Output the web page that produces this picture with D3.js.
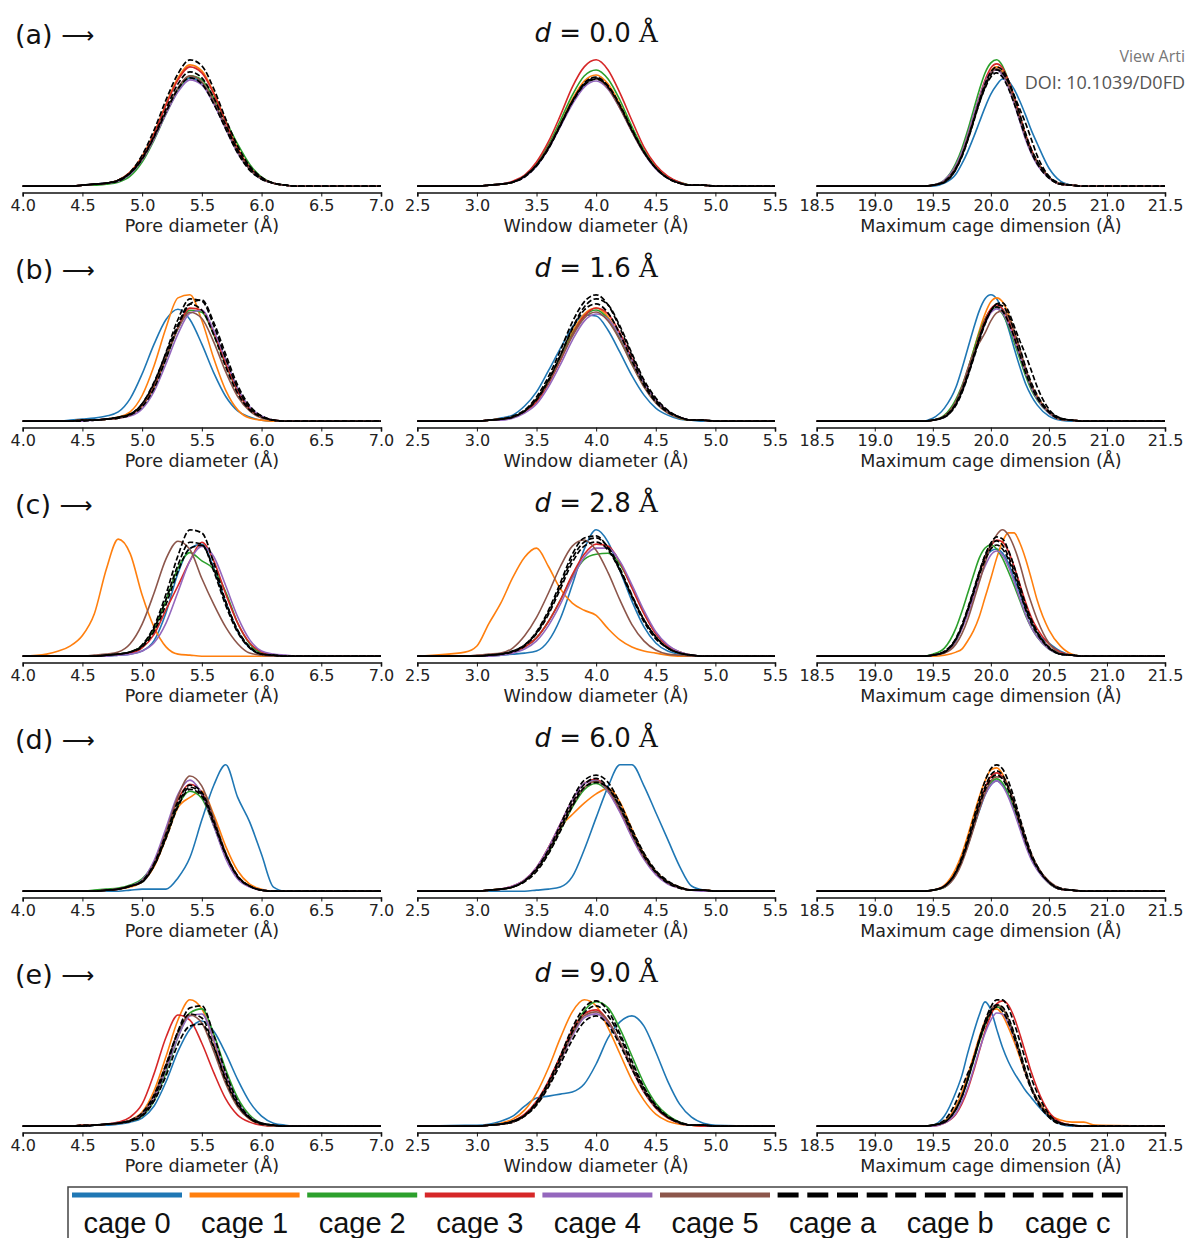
<!DOCTYPE html>
<html>
<head>
<meta charset="utf-8">
<script src="https://cdn.jsdelivr.net/npm/d3@7"></script>
<style>
  body { margin: 0; background: #fff; }
  svg { display: block; }
</style>
</head>
<body>
<svg id="fig" width="1186" height="1238"></svg>
<script>
var seriesNames = ["cage 0", "cage 1", "cage 2", "cage 3", "cage 4", "cage 5", "cage a", "cage b", "cage c"];
var seriesColors = ["#1f77b4", "#ff7f0e", "#2ca02c", "#d62728", "#9467bd", "#8c564b", "#000", "#000", "#000"];
var rowLabels = ["(a)", "(b)", "(c)", "(d)", "(e)"];
var distances = ["0.0", "1.6", "2.8", "6.0", "9.0"];

// x positions where the densities were read
var poreX = [4.0,4.2,4.3,4.4,4.5,4.6,4.7,4.8,4.9,5.0,5.1,5.2,5.3,5.4,5.5,5.6,5.7,5.8,5.9,6.0,6.1,6.2,6.3,7.0];
var windowX = [2.5,2.9,3.0,3.1,3.2,3.3,3.4,3.5,3.6,3.7,3.8,3.9,4.0,4.1,4.2,4.3,4.4,4.5,4.6,4.7,4.8,4.9,5.0,5.5];
var cageX = [18.5,19.4,19.5,19.6,19.7,19.75,19.8,19.85,19.9,19.95,20.0,20.05,20.1,20.15,20.2,20.25,20.3,20.35,20.4,20.5,20.6,20.7,20.8,20.9,21.5];

var poreTicks = [4.0, 4.5, 5.0, 5.5, 6.0, 6.5, 7.0];
var windowTicks = [2.5, 3.0, 3.5, 4.0, 4.5, 5.0, 5.5];
var cageTicks = [18.5, 19.0, 19.5, 20.0, 20.5, 21.0, 21.5];

// densities (arbitrary units), one row per series: cage 0..5, cage a, b, c
var pore_a = [
  [0,0,0,0,1,2,3,5,12,26,48,73,96,108,103,83,58,34,17,7,3,1,0,0],
  [0,0,0,0,1,2,3,6,14,30,53,82,108,121,115,93,65,38,19,8,3,1,0,0],
  [0,0,0,0,1,1,2,4,10,24,46,72,95,110,106,88,65,42,22,9,3,1,0,0],
  [0,0,0,0,1,2,3,6,14,29,52,81,106,119,113,92,64,37,19,8,3,1,0,0],
  [0,0,0,0,1,2,3,5,12,26,47,72,94,106,101,82,57,33,17,7,3,1,0,0],
  [0,0,0,0,1,2,3,6,13,27,49,75,98,110,104,85,59,35,17,7,3,1,0,0],
  [0,0,0,0,1,2,3,6,14,31,56,86,112,126,120,97,67,40,20,9,3,1,0,0],
  [0,0,0,0,1,2,3,6,13,28,50,77,102,114,108,88,61,36,18,8,3,1,0,0],
  [0,0,0,0,1,2,3,5,13,27,49,74,97,108,102,82,57,33,16,7,3,1,0,0]
];
var pore_b = [
  [0,0,0,1,2,3,5,9,22,46,75,99,109,99,75,47,24,10,4,1,0,0,0,0],
  [0,0,0,0,1,1,2,4,9,25,54,91,120,123,98,61,30,11,3,1,0,0,0,0],
  [0,0,0,0,1,1,2,3,6,15,33,61,90,108,106,84,55,29,12,4,1,0,0,0],
  [0,0,0,0,1,1,2,3,6,15,34,62,91,110,108,86,56,29,12,4,1,0,0,0],
  [0,0,0,0,0,1,2,3,5,12,29,56,85,105,108,88,60,32,14,5,1,0,0,0],
  [0,0,0,0,1,1,2,3,6,16,36,63,90,106,100,77,48,24,10,3,1,0,0,0],
  [0,0,0,0,1,1,2,4,7,17,37,67,99,119,117,93,61,32,13,5,1,0,0,0],
  [0,0,0,0,0,1,2,3,6,14,32,61,92,114,118,96,65,35,15,5,1,0,0,0],
  [0,0,0,0,1,1,2,4,7,17,38,66,94,114,108,84,53,27,11,4,1,0,0,0]
];
var pore_c = [
  [0,0,0,0,0,0,0,1,2,5,15,42,80,104,108,85,52,24,8,2,1,0,0,0],
  [0,2,5,10,20,41,84,113,99,59,28,9,2,1,0,0,0,0,0,0,0,0,0,0],
  [0,0,0,0,0,0,1,2,4,10,26,54,85,100,92,84,62,32,12,3,1,0,0,0],
  [0,0,0,0,0,0,1,2,3,8,21,45,68,92,110,92,60,32,13,4,1,0,0,0],
  [0,0,0,0,0,0,0,1,2,5,13,32,62,92,106,96,68,38,16,5,2,1,0,0],
  [0,0,0,0,0,1,2,4,12,31,61,94,111,103,75,50,28,12,3,1,0,0,0,0],
  [0,0,0,0,0,0,1,2,4,11,29,60,97,122,119,90,53,25,9,2,1,0,0,0],
  [0,0,0,0,0,0,1,2,4,10,27,55,88,110,108,82,49,23,8,2,1,0,0,0],
  [0,0,0,0,0,0,1,2,4,9,24,50,82,104,107,84,52,25,9,2,1,0,0,0]
];
var pore_d = [
  [0,0,0,0,0,0,0,0,1,2,2,2,13,33,70,104,124,92,68,36,4,0,0,0],
  [0,0,0,0,0,0,1,2,4,9,24,52,82,92,98,75,44,20,7,2,0,0,0,0],
  [0,0,0,0,0,1,2,3,6,12,28,54,84,98,91,64,34,14,5,1,0,0,0,0],
  [0,0,0,0,0,0,1,2,5,10,28,58,90,105,97,68,36,14,5,1,0,0,0,0],
  [0,0,0,0,0,0,1,2,5,11,30,62,95,109,95,64,32,12,4,1,0,0,0,0],
  [0,0,0,0,0,0,1,2,5,10,27,58,93,113,103,72,38,15,5,1,0,0,0,0],
  [0,0,0,0,0,0,1,2,5,9,25,53,85,102,95,67,36,14,5,1,0,0,0,0],
  [0,0,0,0,0,0,1,2,5,10,27,56,88,104,97,69,37,15,5,1,0,0,0,0],
  [0,0,0,0,0,0,1,2,5,9,25,52,83,100,93,66,36,14,5,1,0,0,0,0]
];
var pore_e = [
  [0,0,0,0,0,1,1,2,4,8,20,44,74,96,104,94,72,46,24,10,3,1,0,0],
  [0,0,0,0,1,1,2,3,6,14,35,69,105,125,116,84,47,21,7,2,0,0,0,0],
  [0,0,0,0,0,1,2,3,5,10,25,53,88,112,116,91,56,28,11,3,1,0,0,0],
  [0,0,0,0,1,1,2,4,9,22,52,88,110,105,82,53,27,11,4,1,0,0,0,0],
  [0,0,0,0,0,1,2,3,5,11,27,56,88,109,111,85,51,24,9,3,1,0,0,0],
  [0,0,0,0,1,1,2,3,6,13,31,61,93,110,102,74,42,19,7,2,0,0,0,0],
  [0,0,0,0,0,1,2,3,5,11,28,58,94,117,119,90,53,25,9,3,1,0,0,0],
  [0,0,0,0,1,1,2,3,6,13,31,61,93,111,107,79,45,21,8,2,1,0,0,0],
  [0,0,0,0,0,1,2,3,5,10,25,50,81,99,101,78,47,22,8,3,1,0,0,0]
];

var window_a = [
  [0,0,0,1,2,4,10,20,38,60,83,100,106,98,78,55,33,18,8,3,1,1,0,0],
  [0,0,0,1,2,4,10,21,39,62,86,104,110,101,81,57,35,19,9,3,1,1,0,0],
  [0,0,0,1,2,4,10,22,41,65,90,109,115,106,85,59,36,19,9,4,1,1,0,0],
  [0,0,0,1,2,5,11,24,44,70,98,118,125,115,92,65,39,21,10,4,1,1,0,0],
  [0,0,0,1,2,4,9,20,37,59,81,98,104,96,77,54,33,17,8,3,1,1,0,0],
  [0,0,0,1,2,4,10,21,39,61,84,101,106,97,77,54,33,18,8,3,1,1,0,0],
  [0,0,0,1,2,4,10,21,38,61,84,102,108,99,80,56,34,18,8,3,1,1,0,0],
  [0,0,0,1,2,4,9,20,37,60,83,100,106,99,80,56,34,18,8,3,1,1,0,0],
  [0,0,0,1,2,4,10,21,38,60,84,101,107,98,79,55,34,18,8,3,1,1,0,0]
];
var window_b = [
  [0,0,0,1,3,6,15,29,50,72,93,105,104,90,68,45,26,13,6,2,1,0,0,0],
  [0,0,0,1,2,4,10,22,40,63,88,106,112,103,83,58,35,19,9,3,1,1,0,0],
  [0,0,0,1,2,4,10,21,39,62,86,104,110,101,81,57,35,19,9,3,1,1,0,0],
  [0,0,0,1,2,4,9,19,37,60,85,104,112,106,87,62,38,21,10,4,1,1,0,0],
  [0,0,0,1,1,3,8,17,34,56,80,99,106,101,84,60,38,21,10,4,1,1,0,0],
  [0,0,0,1,2,4,10,21,38,61,84,102,108,99,80,56,34,18,8,3,1,1,0,0],
  [0,0,0,1,2,5,11,24,44,70,98,118,125,115,92,65,39,21,10,4,1,1,0,0],
  [0,0,0,1,2,4,10,21,40,65,92,113,121,115,94,67,41,23,11,4,1,1,0,0],
  [0,0,0,1,2,4,10,22,41,65,91,110,116,107,86,60,36,19,9,4,1,1,0,0]
];
var window_c = [
  [0,0,0,0,1,2,3,5,15,37,70,105,124,112,84,54,29,13,5,2,1,0,0,0],
  [0,4,10,32,52,77,97,106,88,66,52,45,40,27,16,9,5,3,1,0,0,0,0,0],
  [0,0,0,1,2,4,9,18,34,55,78,95,100,101,90,68,43,23,10,4,1,0,0,0],
  [0,0,0,1,2,4,9,18,34,55,80,100,110,108,92,67,42,22,10,4,1,0,0,0],
  [0,0,0,0,1,3,7,15,30,51,76,97,106,106,93,70,45,24,11,4,1,0,0,0],
  [0,0,1,2,3,8,20,38,62,88,108,114,104,82,55,31,15,6,2,1,0,0,0,0],
  [0,0,0,1,2,5,11,24,45,72,100,116,118,106,84,58,34,17,8,3,1,0,0,0],
  [0,0,0,1,2,5,11,23,43,69,96,112,116,107,86,60,36,19,8,3,1,0,0,0],
  [0,0,0,1,2,4,10,22,41,66,92,108,112,104,84,59,36,19,8,3,1,0,0,0]
];
var window_d = [
  [0,0,0,0,0,0,0,1,2,4,14,40,71,101,122,122,102,76,50,24,5,1,0,0],
  [0,0,0,1,2,4,10,22,42,62,74,85,94,99,86,60,36,19,9,4,1,1,0,0],
  [0,0,0,1,2,4,10,21,37,59,81,98,104,96,78,55,33,18,8,3,1,1,0,0],
  [0,0,0,1,2,5,11,23,42,65,88,104,108,97,77,53,32,17,8,3,1,1,0,0],
  [0,0,0,1,2,5,11,23,42,65,88,104,107,96,76,52,31,16,7,3,1,0,0,0],
  [0,0,0,1,2,4,10,21,38,60,83,100,106,98,79,55,33,18,8,3,1,1,0,0],
  [0,0,0,1,2,4,10,22,40,64,89,107,112,105,85,60,37,20,10,4,1,1,0,0],
  [0,0,0,1,2,4,10,21,38,61,85,103,109,100,81,56,34,18,8,3,1,1,0,0],
  [0,0,0,1,2,4,9,19,36,58,82,100,105,100,82,58,36,19,9,4,1,1,0,0]
];
var window_e = [
  [0,1,1,2,5,10,20,28,30,32,34,42,62,88,104,110,100,74,45,22,9,3,1,0],
  [0,0,0,1,3,7,16,33,58,88,114,126,120,98,72,46,26,12,5,2,1,0,0,0],
  [0,0,0,1,2,4,10,22,41,66,94,115,124,118,97,70,43,23,11,4,1,1,0,0],
  [0,0,0,1,2,5,12,25,45,70,96,112,116,105,83,57,34,18,8,3,1,0,0,0],
  [0,0,0,1,2,4,10,22,41,65,90,108,112,103,83,58,35,19,9,3,1,1,0,0],
  [0,0,0,1,2,4,10,22,41,66,92,110,114,105,84,59,36,19,9,3,1,1,0,0],
  [0,0,0,1,2,5,11,24,44,70,98,118,125,115,92,65,39,21,10,4,1,1,0,0],
  [0,0,0,1,2,5,11,23,42,67,94,113,120,110,89,62,38,20,9,4,1,1,0,0],
  [0,0,0,1,2,4,10,21,39,62,86,104,110,101,81,57,35,19,9,3,1,1,0,0]
];

var cage_a = [
  [0,0,0,3,12,22,34,48,63,78,91,100,106,104,96,84,70,55,42,18,5,1,0,0,0],
  [0,0,1,5,19,32,48,67,86,103,114,118,114,103,87,68,50,35,24,9,2,1,0,0,0],
  [0,0,1,6,23,37,55,75,95,112,122,125,119,105,88,69,50,35,24,9,2,1,0,0,0],
  [0,0,1,5,19,33,50,69,88,105,117,121,117,105,89,70,51,36,24,9,2,1,0,0,0],
  [0,0,1,6,21,34,51,70,88,103,113,115,110,98,82,64,46,32,21,8,2,1,0,0,0],
  [0,0,1,5,19,31,48,66,85,101,112,116,112,101,85,67,49,34,23,9,2,1,0,0,0],
  [0,0,1,4,17,29,45,63,82,98,110,115,112,103,90,76,62,46,30,10,3,1,0,0,0],
  [0,0,1,4,17,30,46,65,84,101,113,118,115,105,89,71,52,36,25,9,2,1,0,0,0],
  [0,0,1,5,18,30,46,64,82,97,108,112,108,97,82,65,48,33,22,8,2,1,0,0,0]
];
var cage_b = [
  [0,0,3,13,34,52,72,92,110,122,126,122,110,93,73,54,37,25,16,5,1,0,0,0,0],
  [0,0,1,5,20,33,50,70,90,107,119,123,119,107,90,71,52,36,25,9,2,1,0,0,0],
  [0,0,1,6,22,35,51,70,88,102,111,113,107,95,79,62,45,31,21,8,2,1,0,0,0],
  [0,0,1,5,19,31,48,66,85,101,112,116,112,101,85,67,49,34,23,9,2,1,0,0,0],
  [0,0,1,4,18,30,46,64,82,97,108,112,108,97,82,65,48,33,22,8,2,1,0,0,0],
  [0,0,1,5,20,34,52,68,78,88,100,108,110,104,90,72,52,36,24,9,2,1,0,0,0],
  [0,0,1,4,16,28,44,62,80,97,110,117,118,110,95,80,66,50,34,12,3,1,0,0,0],
  [0,0,1,5,18,31,47,65,83,99,110,114,110,99,84,66,48,34,23,9,2,1,0,0,0],
  [0,0,1,4,17,29,45,63,82,98,110,116,115,106,91,73,54,38,26,10,3,1,0,0,0]
];
var cage_c = [
  [0,0,1,4,15,28,44,63,82,97,104,106,102,92,77,62,46,33,23,13,5,1,0,0,0],
  [0,0,0,1,4,7,15,25,39,58,77,97,113,122,122,112,96,76,55,26,10,2,0,0,0],
  [0,0,2,8,28,44,62,80,97,107,110,106,97,84,70,55,40,28,19,7,2,1,0,0,0],
  [0,0,1,4,16,28,44,62,81,97,109,115,113,104,89,71,53,38,27,12,4,1,0,0,0],
  [0,0,1,4,16,27,41,58,75,89,100,104,100,89,74,57,41,28,19,7,2,1,0,0,0],
  [0,0,1,3,12,22,36,54,73,92,109,120,125,120,108,91,70,52,36,13,3,1,0,0,0],
  [0,0,1,4,17,29,46,64,83,100,112,118,116,105,89,70,51,36,24,9,2,1,0,0,0],
  [0,0,1,5,18,31,47,65,83,99,110,114,110,99,84,66,48,34,23,9,2,1,0,0,0],
  [0,0,1,4,17,29,45,62,80,95,106,110,106,96,81,64,46,32,22,8,2,1,0,0,0]
];
var cage_d = [
  [0,0,1,4,17,30,45,63,80,96,106,110,106,96,81,64,47,32,22,8,2,1,0,0,0],
  [0,0,1,6,23,37,55,75,94,110,121,123,117,104,87,68,49,34,23,8,2,1,0,0,0],
  [0,0,1,4,18,30,46,64,82,97,108,112,108,97,82,65,48,33,22,8,2,1,0,0,0],
  [0,0,1,5,19,32,48,67,86,103,114,118,114,103,87,68,50,35,24,9,2,1,0,0,0],
  [0,0,1,5,19,32,47,64,81,96,106,110,105,94,79,62,45,31,21,8,2,1,0,0,0],
  [0,0,1,4,16,28,44,62,81,98,110,114,113,104,89,71,53,37,25,10,3,1,0,0,0],
  [0,0,1,5,20,34,52,72,92,110,122,126,122,110,93,73,54,37,25,9,3,1,0,0,0],
  [0,0,1,5,19,32,49,68,88,104,116,120,116,104,88,70,51,35,24,9,2,1,0,0,0],
  [0,0,1,5,19,31,48,66,85,101,112,116,112,101,85,67,49,34,23,9,2,1,0,0,0]
];
var cage_e = [
  [0,0,1,10,34,50,72,92,110,123,115,96,78,64,53,44,35,28,21,9,2,0,0,0,0],
  [0,0,1,5,20,33,50,69,88,104,114,116,110,98,84,68,52,38,27,12,6,4,4,1,0],
  [0,0,1,4,17,29,45,64,83,100,112,118,116,106,91,73,54,38,26,10,3,1,0,0,0],
  [0,0,0,3,12,22,36,54,74,94,110,121,124,120,108,91,72,53,37,14,4,1,0,0,0],
  [0,0,0,3,13,24,38,56,75,92,105,112,111,102,88,71,53,38,26,10,3,1,0,0,0],
  [0,0,1,4,18,30,47,66,86,103,115,120,117,106,90,72,53,37,25,10,3,1,0,0,0],
  [0,0,1,4,17,29,46,66,86,104,118,125,125,117,102,84,65,47,33,12,3,1,0,0,0],
  [0,0,1,6,24,38,52,66,84,100,112,118,114,103,88,70,51,36,24,9,2,1,0,0,0],
  [0,0,1,4,17,29,46,65,85,102,114,120,118,108,92,74,55,38,26,10,3,1,0,0,0]
];

var columns = [
  { xs: poreX, ticks: poreTicks, range: [22.7, 381], label: "Pore diameter (Å)",
    panels: [pore_a, pore_b, pore_c, pore_d, pore_e] },
  { xs: windowX, ticks: windowTicks, range: [417.3, 775], label: "Window diameter (Å)",
    panels: [window_a, window_b, window_c, window_d, window_e] },
  { xs: cageX, ticks: cageTicks, range: [816.7, 1165], label: "Maximum cage dimension (Å)",
    panels: [cage_a, cage_b, cage_c, cage_d, cage_e] }
];

var svg = d3.select("#fig");
var rowStep = 235, firstSpine = 192.5, axH = 139;
var dashOffsets = [0, 2.6, 5.2];

rowLabels.forEach(function(lab, r) {
  var spine = firstSpine + r * rowStep;

  var rl = svg.append("text")
      .attr("x", 15).attr("y", spine - 149)
      .attr("font-family", "DejaVu Sans").attr("font-size", 27).attr("fill", "#111");
  rl.append("tspan").text(lab + " ");
  rl.append("tspan").attr("font-size", 23).attr("dy", -1).text("⟶");

  var title = svg.append("text")
      .attr("x", (columns[1].range[0] + columns[1].range[1]) / 2)
      .attr("y", spine - 151)
      .attr("text-anchor", "middle")
      .attr("font-family", "DejaVu Sans").attr("font-size", 26).attr("fill", "#111");
  title.append("tspan").attr("font-style", "italic").text("d");
  title.append("tspan").text(" = " + distances[r] + " ");
  title.append("tspan").attr("font-family", "DejaVu Serif").text("Å");

  columns.forEach(function(col) {
    var ticks = col.ticks;
    var x = d3.scaleLinear().domain([ticks[0], ticks[ticks.length - 1]]).range(col.range);
    var data = col.panels[r];
    var M = d3.max(data, function(s) { return d3.max(s); });
    var y = d3.scaleLinear().domain([-0.05 * M, 1.05 * M]).range([spine, spine - axH]);

    var line = d3.line()
        .x(function(d) { return x(d[0]); })
        .y(function(d) { return y(d[1]); })
        .curve(d3.curveMonotoneX);

    var g = svg.append("g");
    data.forEach(function(vals, i) {
      var p = g.append("path")
          .attr("d", line(d3.zip(col.xs, vals)))
          .attr("fill", "none")
          .attr("stroke", seriesColors[i]);
      if (i < 6) {
        p.attr("stroke-width", 1.6);
      } else {
        p.attr("stroke-width", 1.7)
         .attr("stroke-dasharray", "5.5,2.4")
         .attr("stroke-dashoffset", dashOffsets[i - 6]);
      }
    });

    var axis = d3.axisBottom(x).tickValues(ticks).tickFormat(d3.format(".1f"))
        .tickSize(4).tickPadding(3);
    var ag = svg.append("g").attr("transform", "translate(0," + spine + ")").call(axis);
    ag.select(".domain").attr("stroke", "#111").attr("stroke-width", 1.6);
    ag.selectAll(".tick line").attr("stroke", "#111").attr("stroke-width", 1);
    ag.selectAll(".tick text")
        .attr("font-family", "DejaVu Sans").attr("font-size", 16).attr("fill", "#222");

    svg.append("text")
        .attr("x", (col.range[0] + col.range[1]) / 2)
        .attr("y", spine + 39)
        .attr("text-anchor", "middle")
        .attr("font-family", "DejaVu Sans").attr("font-size", 17.5).attr("fill", "#222")
        .text(col.label);
  });
});

// legend
var leg = svg.append("g");
leg.append("rect")
    .attr("x", 68).attr("y", 1187).attr("width", 1059).attr("height", 70)
    .attr("fill", "#fff").attr("stroke", "#444").attr("stroke-width", 1.5);
seriesNames.forEach(function(name, i) {
  var x0 = 72 + i * 117.6;
  var ln = leg.append("line")
      .attr("x1", x0).attr("x2", x0 + 110)
      .attr("y1", 1195).attr("y2", 1195)
      .attr("stroke", seriesColors[i]).attr("stroke-width", 5);
  if (i >= 6) ln.attr("stroke-dasharray", "21,8.7");
  leg.append("text")
      .attr("x", x0 + 55).attr("y", 1233)
      .attr("text-anchor", "middle")
      .attr("font-family", "Liberation Sans, Arial").attr("font-size", 29).attr("fill", "#111")
      .text(name);
});

// journal watermark, only the part that shows inside the page edge
svg.append("text").attr("x", 1185).attr("y", 62)
    .attr("text-anchor", "end")
    .attr("font-family", "Open Sans").attr("font-size", 16).attr("fill", "#777")
    .text("View Arti");
svg.append("text").attr("x", 1185).attr("y", 89)
    .attr("text-anchor", "end")
    .attr("font-family", "Open Sans").attr("font-size", 18).attr("fill", "#555")
    .text("DOI: 10.1039/D0FD");
</script>
</body>
</html>
